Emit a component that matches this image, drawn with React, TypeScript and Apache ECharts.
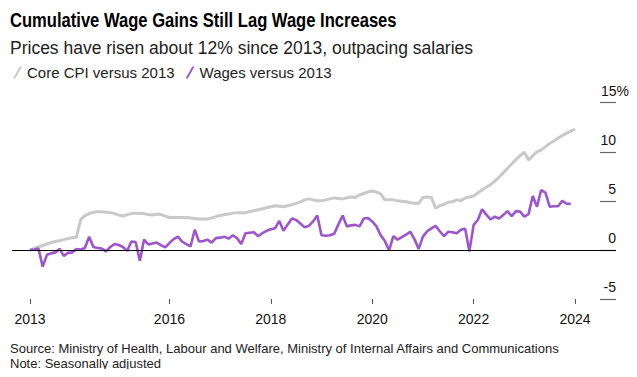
import React, { useEffect, useRef } from "react";
import * as echarts from "echarts";

// Month index 0 = Apr 2013 (monthly data)
const coreCpi: number[] = [
  0, 0.15, 0.3, 0.45, 0.6, 0.75, 0.85, 0.95, 1.05, 1.15, 1.25, 1.3,
  3.1, 3.5, 3.7, 3.85, 3.9, 3.9, 3.85, 3.8, 3.7, 3.55, 3.45, 3.6,
  3.7, 3.75, 3.7, 3.7, 3.6, 3.55, 3.65, 3.6, 3.45, 3.3, 3.3, 3.3,
  3.3, 3.3, 3.25, 3.2, 3.15, 3.15, 3.15, 3.25, 3.4, 3.5, 3.6, 3.65,
  3.75, 3.8, 3.8, 3.8, 3.9, 4.0, 4.1, 4.2, 4.3, 4.4, 4.5, 4.45,
  4.4, 4.5, 4.6, 4.75, 4.9, 5.1, 5.2, 5.1, 5.0, 5.0, 5.1, 5.2,
  5.3, 5.25, 5.2, 5.3, 5.4, 5.35, 5.6, 5.75, 5.9, 6.0, 5.9, 5.7,
  5.1, 5.1, 5.1, 5.0, 4.95, 4.9, 4.8, 4.75, 4.75, 5.35, 5.4, 5.35,
  4.25, 4.5, 4.65, 4.85, 4.9, 5.1, 5.0, 5.3, 5.4, 5.5, 5.8, 6.1,
  6.4, 6.65, 7.0, 7.4, 7.85, 8.3, 8.75, 9.2, 9.6, 9.95, 9.15, 9.6,
  10.0, 10.2, 10.5, 10.85, 11.1, 11.4, 11.65, 11.9, 12.1, 12.3,
];

const wages: number[] = [
  0, 0.05, 0.15, -1.7, -0.5, -0.35, -0.25, 0.1, -0.6, -0.3, -0.25, 0.1,
  0.05, 0.2, 1.35, 0.3, 0.2, 0.15, -0.15, 0.3, 0.6, 0.5, 0.3, -0.1,
  0.85, 0.8, -1.1, 1.05, 0.55, 0.65, 0.75, 0.5, 0.25, 0.7, 1.1, 1.35,
  0.85, 0.6, 0.35, 2.05, 0.85, 0.9, 1.05, 0.75, 1.2, 1.25, 1.35, 1.15,
  1.5, 1.2, 0.6, 1.7, 1.75, 1.8, 1.4, 1.7, 1.95, 2.1, 2.2, 2.95,
  1.95, 2.6, 3.2, 3.05, 2.7, 2.3, 2.45, 2.9, 3.5, 1.5, 1.45, 1.5,
  1.65, 2.6, 3.5, 2.4, 2.5, 2.55, 2.4, 3.2, 3.25, 2.9, 2.4, 1.5,
  0.9, -0.05, 1.4, 1.05, 1.3, 1.55, 1.85, 1.1, 0.1, 1.35, 1.9, 2.2,
  2.45, 1.9, 1.4, 1.85, 1.8, 1.7, 2.05, 2.15, -0.15, 2.55, 3.05, 4.15,
  3.6, 3.1, 3.4, 3.2, 3.55, 3.95, 3.45, 3.95, 3.9, 3.4, 3.65, 5.5,
  4.4, 6.1, 5.85, 4.4, 4.45, 4.45, 5.0, 4.7, 4.7,
];

// x ticks: month index from Apr 2013
const xTickIndex: number[] = [0, 33, 57, 81, 105, 129];
const xTickLabels: string[] = ["2013", "2016", "2018", "2020", "2022", "2024"];

const seriesNames: string[] = ["Core CPI versus 2013", "Wages versus 2013"];
const titleText = "Cumulative Wage Gains Still Lag Wage Increases";
const subtitleText = "Prices have risen about 12% since 2013, outpacing salaries";
const sourceText =
  "Source: Ministry of Health, Labour and Welfare, Ministry of Internal Affairs and Communications";
const noteText = "Note: Seasonally adjusted";

const GRAY = "#c9c9c9";
const PURPLE = "#9d55cc";
const FONT = "'Liberation Sans', Arial, sans-serif";
const SLASH = "path://M0,12 L2.2,12 L9,0 L6.8,0 Z";

export default function App() {
  const ref = useRef<HTMLDivElement>(null);
  useEffect(() => {
    if (!ref.current) return;
    const chart = echarts.init(ref.current, null, { renderer: "svg" });
    chart.setOption({
      animation: false,
      backgroundColor: "#ffffff",
      graphic: [
        {
          type: "text",
          x: 10,
          y: 9,
          scaleX: 0.79,
          style: {
            text: titleText,
            font: "bold 21px 'Liberation Sans', Arial, sans-serif",
            fill: "#000",
            textVerticalAlign: "top",
          },
        },
      ],
      title: [
        {
          text: subtitleText,
          left: 10,
          top: 39,
          padding: 0,
          textStyle: { fontFamily: FONT, fontWeight: "normal", fontSize: 17.5, color: "#222" },
        },
        {
          text: sourceText,
          left: 10,
          top: 342,
          padding: 0,
          textStyle: { fontFamily: FONT, fontWeight: "normal", fontSize: 13, color: "#222" },
        },
        {
          text: noteText,
          left: 10,
          top: 357,
          padding: 0,
          textStyle: { fontFamily: FONT, fontWeight: "normal", fontSize: 13, color: "#222" },
        },
      ],
      legend: {
        data: seriesNames,
        left: 8,
        top: 60,
        itemWidth: 9,
        itemHeight: 12,
        itemGap: 11,
        icon: SLASH,
        textStyle: { fontFamily: FONT, fontSize: 15, color: "#222" },
        selectedMode: false,
      },
      grid: { left: 12, right: 21, top: 102.7, bottom: 78 },
      xAxis: {
        type: "value",
        min: -4.26,
        max: 138.7,
        axisLine: { show: false, onZero: false },
        splitLine: { show: false },
        axisTick: {
          show: true,
          customValues: xTickIndex,
          length: 5,
          lineStyle: { color: "#555", width: 1 },
        },
        axisLabel: {
          customValues: xTickIndex,
          margin: 13,
          fontFamily: FONT,
          fontSize: 14,
          color: "#111",
          formatter: (v: number) => {
            const k = xTickIndex.indexOf(Math.round(v));
            return k >= 0 ? xTickLabels[k] : "";
          },
        },
      },
      yAxis: {
        type: "value",
        position: "right",
        offset: -16,
        min: -5,
        max: 15,
        interval: 5,
        axisLine: { show: false, onZero: false },
        splitLine: { show: false },
        axisTick: { show: true, inside: false, length: 16, lineStyle: { color: "#666", width: 1.2 } },
        axisLabel: {
          margin: 29,
          align: "right",
          verticalAlign: "bottom",
          padding: [0, 0, 5, 0],
          fontFamily: FONT,
          fontSize: 14,
          color: "#111",
          formatter: (v: number) => (v === 15 ? "{b|15%}" : "{a|" + String(v) + "}"),
          rich: {
            a: { fontFamily: FONT, fontSize: 14, color: "#111", padding: [0, 13, 0, 0] },
            b: { fontFamily: FONT, fontSize: 14, color: "#111" },
          },
        },
      },
      series: [
        {
          name: "zero",
          type: "line",
          data: [],
          z: 1,
          silent: true,
          markLine: {
            silent: true,
            symbol: ["none", "none"],
            label: { show: false },
            lineStyle: { color: "#000", width: 1, type: "solid" },
            data: [{ yAxis: 0 }],
          },
        },
        {
          name: seriesNames[0],
          type: "line",
          data: coreCpi.map((v, i) => [i, v]),
          showSymbol: false,
          symbol: "none",
          z: 3,
          color: GRAY,
          lineStyle: { color: GRAY, width: 3 },
        },
        {
          name: seriesNames[1],
          type: "line",
          data: wages.map((v, i) => [i, v]),
          showSymbol: false,
          symbol: "none",
          z: 4,
          color: PURPLE,
          lineStyle: { color: PURPLE, width: 2.6 },
        },
      ],
    });
    return () => chart.dispose();
  }, []);
  return <div ref={ref} style={{ width: 637, height: 377, margin: -8 }} />;
}
